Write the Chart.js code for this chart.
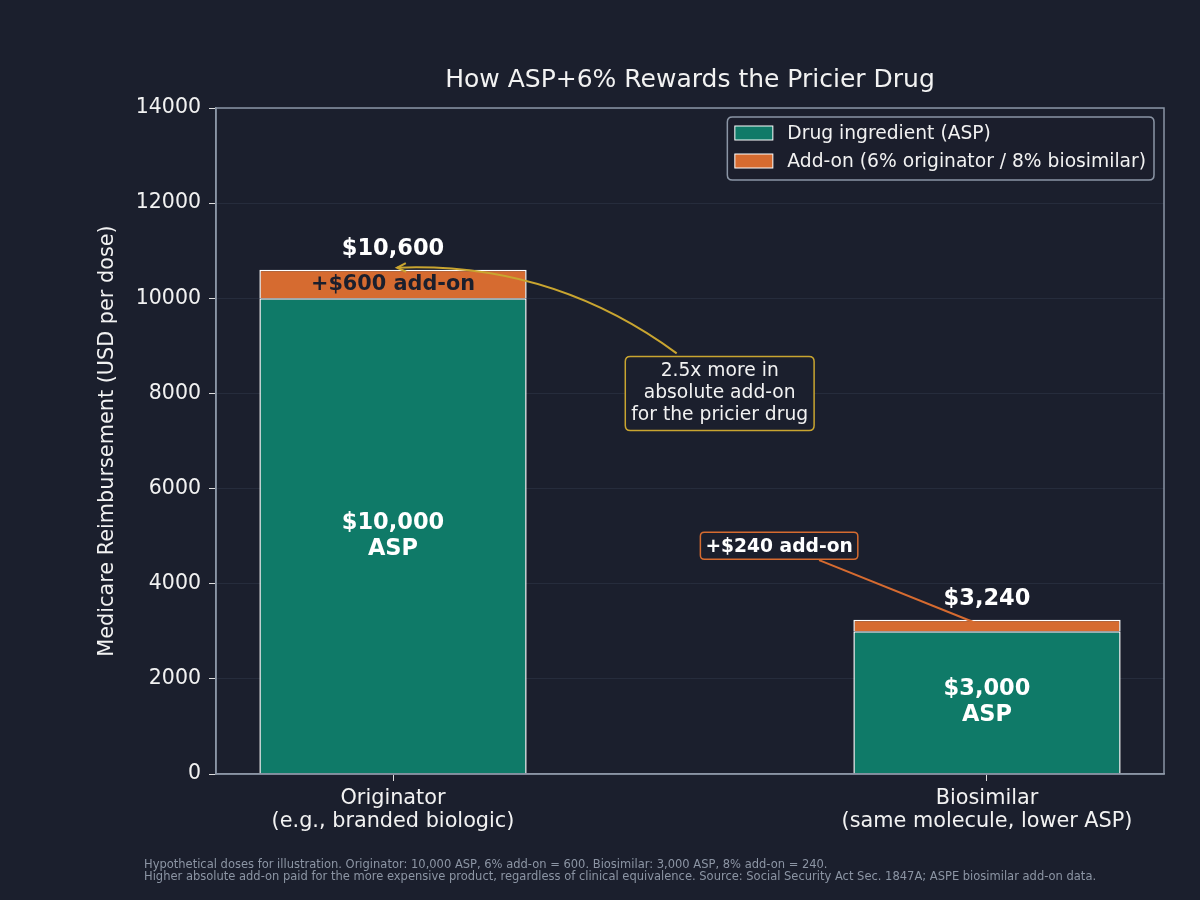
<!DOCTYPE html>
<html><head><meta charset="utf-8">
<script src="https://cdn.jsdelivr.net/npm/chart.js@4.4.1/dist/chart.umd.min.js"></script>
<style>html,body{margin:0;padding:0;background:#1b1f2d;}canvas{display:block;}</style>
</head><body>
<canvas id="c" width="1200" height="900"></canvas>
<script>
// ---- data ----
const categories = [['Originator', '(e.g., branded biologic)'], ['Biosimilar', '(same molecule, lower ASP)']];
const categoryPositions = [0, 1];
const aspValues = [10000, 3000];
const addonValues = [600, 240];
const seriesLabels = ['Drug ingredient (ASP)', 'Add-on (6% originator / 8% biosimilar)'];
const yTickValues = [0, 2000, 4000, 6000, 8000, 10000, 12000, 14000];
const calloutText = ['2.5x more in', 'absolute add-on', 'for the pricier drug'];
const calloutAt = [0.55, 8000];       // data coords of callout box centre
const calloutTarget = [0.0, 10600];   // arrow tip
const addonNoteText = '+$240 add-on';
const addonNoteAt = [0.65, 4800];
const addonNoteTarget = [0.98, 3180];
const footerLines = [
  'Hypothetical doses for illustration. Originator: 10,000 ASP, 6% add-on = 600. Biosimilar: 3,000 ASP, 8% add-on = 240.',
  'Higher absolute add-on paid for the more expensive product, regardless of clinical equivalence. Source: Social Security Act Sec. 1847A; ASPE biosimilar add-on data.'
];

const BG = '#1b1f2d', TEAL = '#0f7a68', ORANGE = '#d66b30', GOLD = '#c9a530', AXIS = '#8b95a5', TXT = '#f2f2f2';
const FF = "'DejaVu Sans', sans-serif";

const fmt = v => '$' + v.toLocaleString('en-US');

function roundRect(ctx, x, y, w, h, r) {
  ctx.beginPath();
  ctx.moveTo(x + r, y); ctx.lineTo(x + w - r, y); ctx.quadraticCurveTo(x + w, y, x + w, y + r);
  ctx.lineTo(x + w, y + h - r); ctx.quadraticCurveTo(x + w, y + h, x + w - r, y + h);
  ctx.lineTo(x + r, y + h); ctx.quadraticCurveTo(x, y + h, x, y + h - r);
  ctx.lineTo(x, y + r); ctx.quadraticCurveTo(x, y, x + r, y);
  ctx.closePath();
}

const overlay = {
  id: 'overlay',
  beforeDraw(chart) {
    const ctx = chart.ctx;
    ctx.save(); ctx.fillStyle = BG; ctx.fillRect(0, 0, chart.width, chart.height); ctx.restore();
  },
  afterDatasetsDraw(chart) {
    const ctx = chart.ctx, xs = chart.scales.x, ys = chart.scales.y;
    ctx.save();
    ctx.textAlign = 'center'; ctx.textBaseline = 'middle';
    categoryPositions.forEach((p, i) => {
      const cx = xs.getPixelForValue(p);
      const total = aspValues[i] + addonValues[i];
      ctx.fillStyle = '#ffffff'; ctx.font = 'bold 22.5px ' + FF;
      ctx.fillText(fmt(total), cx, ys.getPixelForValue(total) - 21);
      const mid = (ys.getPixelForValue(0) + ys.getPixelForValue(aspValues[i])) / 2;
      ctx.fillText(fmt(aspValues[i]), cx, mid - 13);
      ctx.fillText('ASP', cx, mid + 13);
    });
    {
      const cx = xs.getPixelForValue(categoryPositions[0]);
      const yMid = ys.getPixelForValue(aspValues[0] + addonValues[0] / 2);
      ctx.fillStyle = '#1b1f2d'; ctx.font = 'bold 20.8px ' + FF;
      ctx.fillText('+' + fmt(addonValues[0]) + ' add-on', cx, yMid + 1);
    }
    ctx.restore();
  },
  afterDraw(chart) {
    const ctx = chart.ctx, xs = chart.scales.x, ys = chart.scales.y, ca = chart.chartArea;
    ctx.save();
    // frame (spines)
    ctx.strokeStyle = AXIS; ctx.lineWidth = 1.5;
    ctx.strokeRect(ca.left, ca.top, ca.right - ca.left, ca.bottom - ca.top);
    // ---- legend ----
    ctx.font = '18.7px ' + FF;
    const tw = Math.max(...seriesLabels.map(s => ctx.measureText(s).width));
    const lw = 60 + tw + 8, lh = 63;
    const lx = ca.right - 10 - lw, ly = ca.top + 9;
    roundRect(ctx, lx, ly, lw, lh, 5);
    ctx.fillStyle = 'rgba(27,31,45,0.85)'; ctx.fill();
    ctx.strokeStyle = AXIS; ctx.lineWidth = 1.5; ctx.stroke();
    [TEAL, ORANGE].forEach((c, i) => {
      const yy = ly + 16 + i * 28;
      ctx.fillStyle = c; ctx.fillRect(lx + 7.5, yy - 7, 38, 14);
      ctx.strokeStyle = '#ffffff'; ctx.lineWidth = 1; ctx.strokeRect(lx + 7.5, yy - 7, 38, 14);
      ctx.fillStyle = TXT; ctx.textAlign = 'left'; ctx.textBaseline = 'middle';
      ctx.fillText(seriesLabels[i], lx + 60, yy + 1);
    });

    // ---- callout (gold) ----
    const bx = xs.getPixelForValue(calloutAt[0]), by = ys.getPixelForValue(calloutAt[1]);
    ctx.font = '18.7px ' + FF;
    const cw = Math.max(...calloutText.map(s => ctx.measureText(s).width)) + 12;
    const ch = 74;
    const p0 = [bx - 43, by - ch / 2 - 3];
    const p2 = [xs.getPixelForValue(calloutTarget[0]) + 4, ys.getPixelForValue(calloutTarget[1]) - 2];
    const rad = -0.175;
    const dx = p2[0] - p0[0], dy = p2[1] - p0[1];
    const c = [(p0[0] + p2[0]) / 2 + rad * dy, (p0[1] + p2[1]) / 2 - rad * dx];
    ctx.strokeStyle = GOLD; ctx.lineWidth = 2;
    ctx.beginPath(); ctx.moveTo(p0[0], p0[1]); ctx.quadraticCurveTo(c[0], c[1], p2[0], p2[1]); ctx.stroke();
    const ang = Math.atan2(p2[1] - c[1], p2[0] - c[0]);
    ctx.beginPath();
    ctx.moveTo(p2[0] - 10 * Math.cos(ang - 0.45), p2[1] - 10 * Math.sin(ang - 0.45));
    ctx.lineTo(p2[0], p2[1]);
    ctx.lineTo(p2[0] - 10 * Math.cos(ang + 0.45), p2[1] - 10 * Math.sin(ang + 0.45));
    ctx.stroke();
    roundRect(ctx, bx - cw / 2, by - ch / 2, cw, ch, 5);
    ctx.fillStyle = BG; ctx.fill(); ctx.strokeStyle = GOLD; ctx.lineWidth = 1.5; ctx.stroke();
    ctx.fillStyle = TXT; ctx.textAlign = 'center'; ctx.textBaseline = 'middle';
    calloutText.forEach((s, i) => ctx.fillText(s, bx, by + (i - 1) * 22));

    // ---- +$240 note (orange) ----
    const nx = xs.getPixelForValue(addonNoteAt[0]), ny = ys.getPixelForValue(addonNoteAt[1]);
    ctx.font = 'bold 18.7px ' + FF;
    const nw = ctx.measureText(addonNoteText).width + 10, nh = 27;
    const tx = xs.getPixelForValue(addonNoteTarget[0]), ty = ys.getPixelForValue(addonNoteTarget[1]);
    ctx.strokeStyle = ORANGE; ctx.lineWidth = 2;
    ctx.beginPath(); ctx.moveTo(nx + 40, ny + nh / 2 + 1); ctx.lineTo(tx, ty); ctx.stroke();
    roundRect(ctx, nx - nw / 2, ny - nh / 2, nw, nh, 4);
    ctx.fillStyle = BG; ctx.fill(); ctx.strokeStyle = ORANGE; ctx.lineWidth = 1.5; ctx.stroke();
    ctx.fillStyle = '#ffffff'; ctx.fillText(addonNoteText, nx, ny + 1);

    // ---- footer ----
    ctx.font = '11.5px ' + FF; ctx.fillStyle = '#8c95a4'; ctx.textAlign = 'left';
    footerLines.forEach((s, i) => ctx.fillText(s, 144, 865 + i * 12));
    ctx.restore();
  }
};

const toPoints = vals => vals.map((v, i) => ({ x: categoryPositions[i], y: v }));

new Chart(document.getElementById('c'), {
  type: 'bar',
  data: {
    datasets: [
      { label: seriesLabels[0], data: toPoints(aspValues), backgroundColor: TEAL, borderColor: '#ffffff', borderWidth: 1.5, barPercentage: 0.45, categoryPercentage: 1 },
      { label: seriesLabels[1], data: toPoints(addonValues), backgroundColor: ORANGE, borderColor: '#ffffff', borderWidth: 1.5, barPercentage: 0.45, categoryPercentage: 1 }
    ]
  },
  options: {
    responsive: false, animation: false,
    layout: { padding: { left: 85, right: 36, top: 0, bottom: 40 } },
    plugins: {
      legend: { display: false }, tooltip: { enabled: false },
      title: { display: true, fullSize: false, text: 'How ASP+6% Rewards the Pricier Drug', color: TXT,
        font: { family: FF, size: 25, weight: 'normal' }, padding: { top: 65, bottom: 13 } }
    },
    scales: {
      x: {
        type: 'linear', stacked: true, min: -0.298, max: 1.298, offset: false,
        afterBuildTicks: s => { s.ticks = categoryPositions.map(v => ({ value: v })); },
        afterFit: s => { s.height = 86; },
        ticks: { color: TXT, font: { family: FF, size: 20.8, lineHeight: 1.1 }, padding: 6, maxRotation: 0,
          callback: v => categories[categoryPositions.indexOf(v)] },
        grid: { display: true, offset: false, drawOnChartArea: false, tickLength: 7, tickColor: '#dddddd' },
        border: { color: AXIS, width: 1.5 }
      },
      y: {
        stacked: true, min: 0, max: 14000,
        afterBuildTicks: s => { s.ticks = yTickValues.map(v => ({ value: v })); },
        afterFit: s => { s.width = 131; },
        ticks: { color: TXT, font: { family: FF, size: 20.5 }, padding: 8, callback: v => String(v) },
        grid: { color: 'rgba(60,68,90,0.35)', tickLength: 7, tickColor: '#dddddd' },
        border: { color: AXIS, width: 1.5 },
        title: { display: true, text: 'Medicare Reimbursement (USD per dose)', color: TXT,
          font: { family: FF, size: 20.8 }, padding: { top: 10, bottom: 4 } }
      }
    }
  },
  plugins: [overlay]
});
</script>
</body></html>
